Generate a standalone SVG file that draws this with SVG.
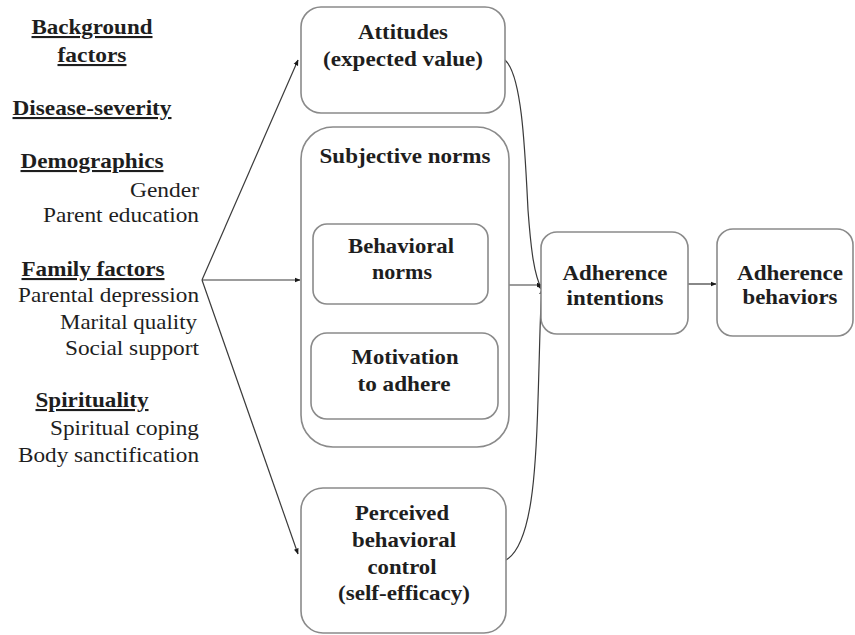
<svg xmlns="http://www.w3.org/2000/svg" width="855" height="635" viewBox="0 0 855 635">
<defs>
<style>
.box{fill:#fff;stroke:#8a8a8a;stroke-width:1.6}
.t{font-family:'Liberation Serif','DejaVu Serif',serif;font-size:21px;fill:#1e1e1e}
.b{font-weight:bold;text-anchor:middle}
.h{font-weight:bold;text-anchor:middle;text-decoration:underline}
.r{text-anchor:end}
.c{fill:none;stroke:#3a3a3a;stroke-width:1.2}
</style>
<marker id="ah" viewBox="0 0 10 10" refX="9" refY="5" markerWidth="6" markerHeight="6" orient="auto" markerUnits="userSpaceOnUse">
<path d="M0,1 L10,5 L0,9 Z" fill="#1a1a1a"/>
</marker>
</defs>
<rect width="855" height="635" fill="#fff"/>

<g id="background" font-family="Liberation Serif, serif">
<text class="t h" x="92" y="34" textLength="121" lengthAdjust="spacingAndGlyphs">Background</text>
<text class="t h" x="92" y="62" textLength="69" lengthAdjust="spacingAndGlyphs">factors</text>
<text class="t h" x="92" y="115" textLength="159" lengthAdjust="spacingAndGlyphs">Disease-severity</text>
<text class="t h" x="92" y="168" textLength="143" lengthAdjust="spacingAndGlyphs">Demographics</text>
<text class="t r" x="199" y="197" textLength="69" lengthAdjust="spacingAndGlyphs">Gender</text>
<text class="t r" x="199" y="222" textLength="156" lengthAdjust="spacingAndGlyphs">Parent education</text>
<text class="t h" x="93" y="276" textLength="143" lengthAdjust="spacingAndGlyphs">Family factors</text>
<text class="t r" x="199" y="302" textLength="181" lengthAdjust="spacingAndGlyphs">Parental depression</text>
<text class="t r" x="197" y="329" textLength="137" lengthAdjust="spacingAndGlyphs">Marital quality</text>
<text class="t r" x="199" y="355" textLength="134" lengthAdjust="spacingAndGlyphs">Social support</text>
<text class="t h" x="92" y="407" textLength="113" lengthAdjust="spacingAndGlyphs">Spirituality</text>
<text class="t r" x="199" y="435" textLength="149" lengthAdjust="spacingAndGlyphs">Spiritual coping</text>
<text class="t r" x="199" y="462" textLength="181" lengthAdjust="spacingAndGlyphs">Body sanctification</text>
</g>

<g id="connectors">
<line class="c" x1="202" y1="280" x2="298" y2="60" marker-end="url(#ah)"/>
<line class="c" x1="202" y1="280" x2="300" y2="280" marker-end="url(#ah)"/>
<line class="c" x1="202" y1="280" x2="298" y2="554" marker-end="url(#ah)"/>
<path class="c" d="M505,60 C522,75 525,150 528,210 C531,250 534,275 542,290" marker-end="url(#ah)"/>
<line class="c" x1="509" y1="285" x2="542" y2="285" marker-end="url(#ah)"/>
<path class="c" d="M506,560 C532,545 536,470 538,400 C540,340 540,310 542,289" marker-end="url(#ah)"/>
<line class="c" x1="688" y1="284" x2="716" y2="284" marker-end="url(#ah)"/>
</g>

<g id="attitudes">
<rect class="box" x="301" y="7" width="204" height="106" rx="20"/>
<text class="t b" x="403" y="39" textLength="90" lengthAdjust="spacingAndGlyphs">Attitudes</text>
<text class="t b" x="403" y="66" textLength="160" lengthAdjust="spacingAndGlyphs">(expected value)</text>
</g>

<g id="subjective-norms">
<rect class="box" x="301" y="127" width="208" height="320" rx="32"/>
<text class="t b" x="405" y="163" textLength="171" lengthAdjust="spacingAndGlyphs">Subjective norms</text>
</g>

<g id="behavioral-norms">
<rect class="box" x="313" y="224" width="175" height="80" rx="14"/>
<text class="t b" x="401" y="253" textLength="106" lengthAdjust="spacingAndGlyphs">Behavioral</text>
<text class="t b" x="402" y="279" textLength="60" lengthAdjust="spacingAndGlyphs">norms</text>
</g>

<g id="motivation">
<rect class="box" x="311" y="333" width="187" height="86" rx="16"/>
<text class="t b" x="405" y="364" textLength="107" lengthAdjust="spacingAndGlyphs">Motivation</text>
<text class="t b" x="404" y="391" textLength="93" lengthAdjust="spacingAndGlyphs">to adhere</text>
</g>

<g id="perceived-control">
<rect class="box" x="301" y="488" width="205" height="145" rx="22"/>
<text class="t b" x="402" y="520" textLength="94" lengthAdjust="spacingAndGlyphs">Perceived</text>
<text class="t b" x="404" y="547" textLength="104" lengthAdjust="spacingAndGlyphs">behavioral</text>
<text class="t b" x="402" y="574" textLength="69" lengthAdjust="spacingAndGlyphs">control</text>
<text class="t b" x="404" y="600" textLength="132" lengthAdjust="spacingAndGlyphs">(self-efficacy)</text>
</g>

<g id="adherence-intentions">
<rect class="box" x="541" y="232" width="147" height="102" rx="16"/>
<text class="t b" x="615" y="280" textLength="105" lengthAdjust="spacingAndGlyphs">Adherence</text>
<text class="t b" x="615" y="305" textLength="97" lengthAdjust="spacingAndGlyphs">intentions</text>
</g>

<g id="adherence-behaviors">
<rect class="box" x="717" y="229" width="136" height="107" rx="16"/>
<text class="t b" x="790" y="280" textLength="106" lengthAdjust="spacingAndGlyphs">Adherence</text>
<text class="t b" x="790" y="304" textLength="95" lengthAdjust="spacingAndGlyphs">behaviors</text>
</g>
</svg>
